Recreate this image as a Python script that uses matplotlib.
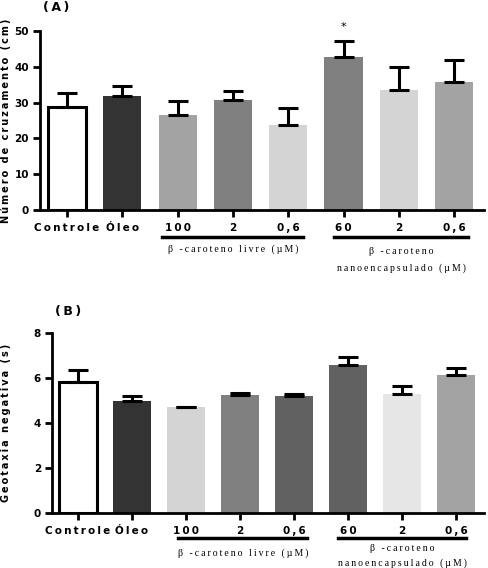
import numpy as np
import matplotlib
matplotlib.use("Agg")
import matplotlib.pyplot as plt

plt.rcParams['font.family'] = ['DejaVu Sans']

# dados
categorias = ["Controle", "Óleo", "100", "2", "0,6", "60", "2", "0,6"]

cruz_media = [28.9, 31.8, 26.4, 30.6, 23.7, 42.8, 33.5, 35.7]
cruz_erro = [3.9, 2.7, 4.0, 2.6, 4.8, 4.5, 6.5, 6.2]
cruz_cores = ["white", "#333333", "#a3a3a3", "#808080", "#d4d4d4", "#808080", "#d4d4d4", "#a3a3a3"]

geo_media = [5.82, 4.96, 4.69, 5.25, 5.21, 6.57, 5.27, 6.14]
geo_erro = [0.53, 0.22, 0.03, 0.08, 0.07, 0.35, 0.37, 0.32]
geo_cores = ["white", "#333333", "#d4d4d4", "#808080", "#616161", "#616161", "#e6e6e6", "#a3a3a3"]

grupo_livre = "β -caroteno livre (µM)"
grupo_nano = "β -caroteno\nnanoencapsulado (µM)"

W, H = 488, 568


def sp(s):
    # espaçamento entre letras, como no Prism
    return "\u2009".join(s)


def painel(rect, media, erro, cores, ymax, ystep, ylabel, xlim):
    l, t, r, b = rect
    ax = fig.add_axes([l / W, 1 - b / H, (r - l) / W, (b - t) / H])
    x = np.arange(len(media))
    ax.bar(x, media, width=0.69, color=cores, edgecolor=["black"] + list(cores),
           linewidth=[2.2] + [0] * (len(media) - 1), zorder=2)
    ax.errorbar(x, media, yerr=[np.zeros(len(erro)), erro], fmt="none",
                ecolor="black", elinewidth=2.2, capsize=7, capthick=2.2, zorder=3)
    ax.set_xlim(*xlim)
    ax.set_ylim(0, ymax)
    ticks = np.arange(0, ymax + 0.01, ystep)
    ax.set_yticks(ticks)
    ax.set_yticklabels([str(int(v)) for v in ticks], fontsize=7.5, fontweight="bold")
    ax.set_xticks(x)
    ax.set_xticklabels([sp(c) for c in categorias], fontsize=7.5, fontweight="bold")
    for s in ["top", "right"]:
        ax.spines[s].set_visible(False)
    for s in ["left", "bottom"]:
        ax.spines[s].set_linewidth(2)
    ax.tick_params(axis="both", width=2, length=5, direction="out", pad=3)
    ax.tick_params(axis="x", pad=4)
    ax.set_ylabel(sp(ylabel), fontsize=7, fontweight="bold")
    # posição do rótulo y em pixels da figura
    ax.yaxis.set_label_coords((11 - l) / (r - l), 0.5)
    return ax


fig = plt.figure(figsize=(W / 100, H / 100), dpi=100)
serif = ["Liberation Serif", "DejaVu Serif"]

# painel A
axA = painel((40, 31, 484, 210), cruz_media, cruz_erro, cruz_cores, 50, 10,
             "Número de cruzamento (cm)", (-0.49, 7.54))
fig.text(43 / W, 1 - 8 / H, sp("(A)"), fontsize=9, fontweight="bold", va="center")
axA.text(5, cruz_media[5] + cruz_erro[5] + 2.5, "*", ha="center", va="bottom",
         fontsize=8, clip_on=False)

fig.add_artist(plt.Line2D([162 / W, 303 / W], [1 - 237 / H] * 2, color="black", lw=2.5))
fig.add_artist(plt.Line2D([334 / W, 468 / W], [1 - 237 / H] * 2, color="black", lw=2.5))
fig.text(233 / W, 1 - 249 / H, sp(grupo_livre), family=serif,
         fontsize=7, ha="center", va="center")
fig.text(401 / W, 1 - 260 / H, "\n".join(sp(s) for s in grupo_nano.split("\n")),
         family=serif, fontsize=7, ha="center", va="center", linespacing=1.9)

# painel B
axB = painel((52, 333, 484, 513), geo_media, geo_erro, geo_cores, 8, 2,
             "Geotaxia negativa (s)", (-0.48, 7.52))
fig.text(55 / W, 1 - 312 / H, sp("(B)"), fontsize=9, fontweight="bold", va="center")

fig.add_artist(plt.Line2D([178 / W, 307 / W], [1 - 538 / H] * 2, color="black", lw=2.5))
fig.add_artist(plt.Line2D([338 / W, 466 / W], [1 - 538 / H] * 2, color="black", lw=2.5))
fig.text(243 / W, 1 - 553 / H, sp(grupo_livre), family=serif,
         fontsize=7, ha="center", va="center")
fig.text(402 / W, 1 - 556 / H, "\n".join(sp(s) for s in grupo_nano.split("\n")),
         family=serif, fontsize=7, ha="center", va="center", linespacing=1.6)

fig.savefig("out.png", dpi=100)
